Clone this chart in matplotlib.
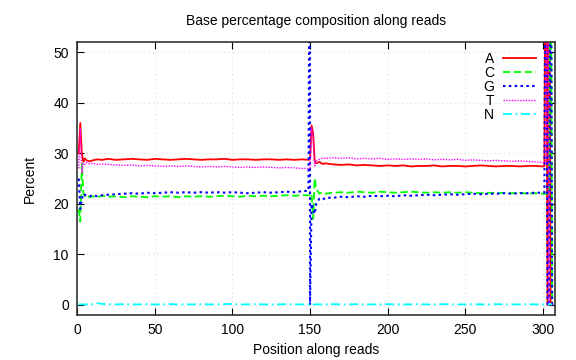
import matplotlib
matplotlib.use("Agg")
import matplotlib.pyplot as plt

plt.rcParams['font.family'] = ['Liberation Sans', 'DejaVu Sans']

# positions along the read (150 appears twice: the G column jumps there)
pos = [1, 2, 3, 4, 5, 6, 8, 10, 13, 16,
       20, 25, 30, 35, 40, 45, 50, 55, 60, 65, 70, 75, 80, 85, 90, 95, 100,
       105, 110, 115, 120, 125, 130, 135, 140, 145,
       149, 150, 150, 151, 152, 153, 154, 156, 158, 160,
       165, 170, 175, 180, 185, 190, 195, 200, 205, 210, 215, 220, 225, 230,
       235, 240, 245, 250, 255, 260, 265, 270, 275, 280, 285, 290, 295, 300,
       301, 302, 303, 304, 305, 306]

base_a = [30, 36, 30, 28.3, 29, 28.6, 28.4, 28.6, 28.8, 28.7,
          28.9, 28.7, 28.8, 28.9, 28.8, 28.7, 28.9, 28.8, 28.7, 28.8, 28.9, 28.8, 28.7, 28.8, 28.8, 28.9, 28.7,
          28.8, 28.8, 28.7, 28.8, 28.8, 28.7, 28.8, 28.7, 28.8,
          28.7, 28.8, 28.8, 35.5, 34, 28.5, 28.0, 28.3, 27.9, 28.0,
          27.8, 27.7, 27.8, 27.6, 27.7, 27.6, 27.5, 27.6, 27.5, 27.6, 27.4, 27.5, 27.5, 27.6,
          27.4, 27.5, 27.5, 27.4, 27.5, 27.6, 27.5, 27.4, 27.5, 27.5, 27.4, 27.5, 27.5, 27.4,
          27.5, 100, 0, 100, 0.5, 0.5]

base_c = [19, 16.5, 28, 22, 21.5, 21.8, 21.3, 21.5, 21.3, 21.6,
          21.4, 21.5, 21.3, 21.5, 21.4, 21.3, 21.5, 21.4, 21.5, 21.3, 21.5, 21.4, 21.5, 21.4, 21.5, 21.6, 21.5,
          21.4, 21.6, 21.5, 21.6, 21.5, 21.6, 21.7, 21.6, 21.7,
          21.7, 21.7, 21.7, 22, 17, 25, 23, 22, 22.3, 22.0,
          22.2, 22.3, 22.2, 22.4, 22.3, 22.2, 22.4, 22.3, 22.2, 22.3, 22.4, 22.3, 22.2, 22.3,
          22.2, 22.3, 22.2, 22.3, 22.2, 22.1, 22.2, 22.1, 22.2, 22.1, 22.2, 22.0, 22.1, 22.0,
          22.0, 22.0, 22.0, 22.0, 100, 0]

base_g = [25, 19, 21, 22, 21.8, 21.6, 21.5, 21.7, 21.5, 21.7,
          21.8, 21.9, 22.0, 22.1, 22.0, 22.2, 22.1, 22.2, 22.3, 22.2, 22.3, 22.2, 22.3, 22.2, 22.3, 22.2, 22.3,
          22.2, 22.1, 22.2, 22.3, 22.2, 22.3, 22.4, 22.3, 22.5,
          22.6, 100, 0, 20, 19, 18, 20, 21, 20.8, 21.2,
          21.2, 21.4, 21.3, 21.5, 21.4, 21.6, 21.5, 21.6, 21.5, 21.7, 21.6, 21.7, 21.8, 21.7,
          21.8, 21.9, 21.8, 21.9, 22.0, 21.9, 22.0, 22.0, 22.1, 22.0, 22.1, 22.1, 22.2, 22.2,
          22.2, 100, 0, 0, 100, 0]

base_t = [27, 35, 26, 28, 27.8, 28.2, 27.9, 28.0, 27.8, 27.9,
          27.8, 27.7, 27.6, 27.7, 27.5, 27.6, 27.5, 27.4, 27.5, 27.4, 27.5, 27.4, 27.3, 27.4, 27.3, 27.4, 27.3,
          27.2, 27.3, 27.2, 27.3, 27.2, 27.1, 27.2, 27.1, 27.0,
          27.0, 27.1, 27.1, 35, 33, 27.5, 28.5, 28.8, 29.0, 29.0,
          29.1, 29.0, 29.1, 28.9, 29.0, 28.9, 29.0, 28.8, 28.9, 28.8, 28.9, 28.8, 28.9, 28.7,
          28.8, 28.7, 28.8, 28.6, 28.7, 28.6, 28.5, 28.6, 28.5, 28.4, 28.5, 28.4, 28.3, 28.2,
          28.0, 28.0, 100, 0, 0, 0]

base_n = [0.1, 0.1, 0.1, 0.1, 0.1, 0.1, 0.1, 0.15, 0.35, 0.2,
          0.15, 0.1, 0.15, 0.1, 0.1, 0.15, 0.1, 0.1, 0.15, 0.1, 0.1, 0.1, 0.15, 0.1, 0.1, 0.15, 0.2,
          0.1, 0.1, 0.15, 0.1, 0.1, 0.1, 0.15, 0.1, 0.1,
          0.1, 0.1, 0.1, 0.2, 0.1, 0.1, 0.1, 0.1, 0.1, 0.1,
          0.15, 0.1, 0.1, 0.15, 0.1, 0.1, 0.1, 0.15, 0.1, 0.1, 0.1, 0.15, 0.1, 0.1,
          0.15, 0.1, 0.1, 0.1, 0.15, 0.1, 0.1, 0.15, 0.1, 0.1, 0.1, 0.15, 0.1, 0.1,
          0.1, 0.1, 0.1, 0.1, 0.1, 0.1]

xticks = [0, 50, 100, 150, 200, 250, 300]
yticks = [0, 10, 20, 30, 40, 50]

fig = plt.figure(figsize=(5.76, 3.6), dpi=100)
ax = fig.add_axes([0.134, 0.125, 0.830, 0.758])

ax.plot(pos, base_a, color='#ff0000', lw=1.3, ls='-', label='A')
ax.plot(pos, base_c, color='#00ff00', lw=1.3, ls=(0, (4, 2)), label='C')
ax.plot(pos, base_g, color='#0000ff', lw=1.5, ls=(0, (1.2, 1.6)), label='G')
ax.plot(pos, base_t, color='#ff00ff', lw=1.0, ls=(0, (1, 1)), label='T')
ax.plot(pos, base_n, color='#00ffff', lw=1.3, ls=(0, (5, 2, 1, 2)), label='N')

ax.set_xlim(0, 308)
ax.set_ylim(-2, 52)
ax.set_xticks(xticks)
ax.set_yticks(yticks)
ax.tick_params(direction='in', top=True, right=True, length=5, labelsize=10, pad=6)
ax.grid(True, color='#dddddd', ls=(0, (1, 3)), lw=0.8)
for sp in ax.spines.values():
    sp.set_linewidth(1.2)
    sp.set_color('#333333')

ax.set_title('Base percentage composition along reads', fontsize=10, pad=12)
ax.set_xlabel('Position along reads', fontsize=10, labelpad=4)
ax.set_ylabel('Percent', fontsize=10, labelpad=12)

leg = ax.legend(loc='upper right', bbox_to_anchor=(0.98, 1.0), frameon=False,
                markerfirst=False, fontsize=10, handlelength=2.4,
                labelspacing=0.0, handletextpad=0.6, borderaxespad=0.3)

fig.savefig('out.png', dpi=100)
